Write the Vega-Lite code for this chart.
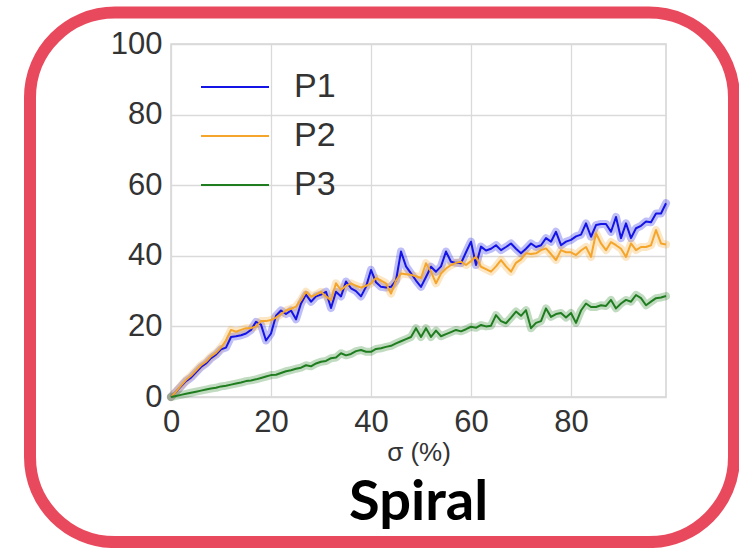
{
  "$schema": "https://vega.github.io/schema/vega-lite/v6.json",
  "width": 495,
  "height": 353,
  "autosize": {"type": "none"},
  "padding": {"left": 171, "top": 44, "right": 73, "bottom": 151},
  "background": "white",
  "config": {
    "font": "Liberation Sans",
    "view": {"stroke": "#d4d4d4", "strokeWidth": 1.5},
    "axis": {
      "grid": true, "gridColor": "#dadada", "gridWidth": 1.3,
      "domain": false, "ticks": false, "labelFlush": false,
      "labelFont": "Liberation Sans", "labelFontSize": 31, "labelColor": "#333333",
      "titleFont": "Liberation Sans", "titleFontSize": 26, "titleColor": "#333333", "titleFontWeight": "normal"
    },
    "legend": {
      "orient": "top-left", "offset": 29, "padding": 0,
      "symbolType": "stroke", "symbolSize": 4624, "symbolStrokeWidth": 1.8, "symbolOpacity": 1,
      "labelFont": "Liberation Sans", "labelFontSize": 34, "labelColor": "#333333", "labelOffset": 24,
      "clipHeight": 28, "rowPadding": 15
    }
  },
  "title": {
    "text": "Spiral", "orient": "bottom", "frame": "group", "font": "Lato", "fontSize": 56, "fontWeight": "bold",
    "color": "#000000", "offset": -72, "anchor": "middle"
  },
  "data": {"values": [
    {"s":"P1","x":0,"y":0},{"s":"P1","x":1,"y":1.5},{"s":"P1","x":2,"y":3},{"s":"P1","x":3,"y":4.5},{"s":"P1","x":4,"y":5.5},
    {"s":"P1","x":5,"y":7},{"s":"P1","x":6,"y":8.5},{"s":"P1","x":7,"y":9.5},{"s":"P1","x":8,"y":11},{"s":"P1","x":9,"y":12},
    {"s":"P1","x":10,"y":13.5},{"s":"P1","x":11,"y":14},{"s":"P1","x":12,"y":17},{"s":"P1","x":13,"y":17.2},{"s":"P1","x":14,"y":17.5},
    {"s":"P1","x":15,"y":18},{"s":"P1","x":16,"y":19},{"s":"P1","x":17,"y":21.3},{"s":"P1","x":18,"y":20.5},{"s":"P1","x":19,"y":16},
    {"s":"P1","x":20,"y":18},{"s":"P1","x":21,"y":23},{"s":"P1","x":22,"y":24.5},{"s":"P1","x":23,"y":23.5},{"s":"P1","x":24,"y":24.5},
    {"s":"P1","x":25,"y":22},{"s":"P1","x":26,"y":26.5},{"s":"P1","x":27,"y":29},{"s":"P1","x":28,"y":27},{"s":"P1","x":29,"y":28.5},
    {"s":"P1","x":30,"y":29},{"s":"P1","x":31,"y":29.8},{"s":"P1","x":32,"y":25.2},{"s":"P1","x":33,"y":29.8},{"s":"P1","x":34,"y":28.5},
    {"s":"P1","x":35,"y":32.7},{"s":"P1","x":36,"y":30.8},{"s":"P1","x":37,"y":30},{"s":"P1","x":38,"y":28.5},{"s":"P1","x":39,"y":31.2},
    {"s":"P1","x":40,"y":36},{"s":"P1","x":41,"y":32.5},{"s":"P1","x":42,"y":31.2},{"s":"P1","x":43,"y":31},{"s":"P1","x":44,"y":31.2},
    {"s":"P1","x":45,"y":33},{"s":"P1","x":46,"y":41.2},{"s":"P1","x":47,"y":37},{"s":"P1","x":48,"y":35},{"s":"P1","x":49,"y":33},
    {"s":"P1","x":50,"y":31.2},{"s":"P1","x":51,"y":34},{"s":"P1","x":52,"y":36.9},{"s":"P1","x":53,"y":35.5},{"s":"P1","x":54,"y":37},
    {"s":"P1","x":55,"y":41.2},{"s":"P1","x":56,"y":38.3},{"s":"P1","x":57,"y":38},{"s":"P1","x":58,"y":37.9},{"s":"P1","x":59,"y":41},
    {"s":"P1","x":60,"y":44},{"s":"P1","x":61,"y":37.4},{"s":"P1","x":62,"y":42.6},{"s":"P1","x":63,"y":41.5},{"s":"P1","x":64,"y":42},
    {"s":"P1","x":65,"y":43},{"s":"P1","x":66,"y":41.6},{"s":"P1","x":67,"y":42.5},{"s":"P1","x":68,"y":43.5},{"s":"P1","x":69,"y":42},
    {"s":"P1","x":70,"y":40.7},{"s":"P1","x":71,"y":42},{"s":"P1","x":72,"y":43.5},{"s":"P1","x":73,"y":42.5},{"s":"P1","x":74,"y":43},
    {"s":"P1","x":75,"y":45},{"s":"P1","x":76,"y":44},{"s":"P1","x":77,"y":46.8},{"s":"P1","x":78,"y":43},{"s":"P1","x":79,"y":44},
    {"s":"P1","x":80,"y":44.5},{"s":"P1","x":81,"y":45.5},{"s":"P1","x":82,"y":46},{"s":"P1","x":83,"y":49.2},{"s":"P1","x":84,"y":45.4},
    {"s":"P1","x":85,"y":48.7},{"s":"P1","x":86,"y":49},{"s":"P1","x":87,"y":49},{"s":"P1","x":88,"y":46.8},{"s":"P1","x":89,"y":51},
    {"s":"P1","x":90,"y":45},{"s":"P1","x":91,"y":49.2},{"s":"P1","x":92,"y":45},{"s":"P1","x":93,"y":47.8},{"s":"P1","x":94,"y":48.5},
    {"s":"P1","x":95,"y":49.7},{"s":"P1","x":96,"y":49.5},{"s":"P1","x":97,"y":52},{"s":"P1","x":98,"y":52},{"s":"P1","x":99,"y":54.9},

    {"s":"P2","x":0,"y":0},{"s":"P2","x":1,"y":1.5},{"s":"P2","x":2,"y":3.2},{"s":"P2","x":3,"y":4.8},{"s":"P2","x":4,"y":6},
    {"s":"P2","x":5,"y":7.5},{"s":"P2","x":6,"y":9},{"s":"P2","x":7,"y":10},{"s":"P2","x":8,"y":11.5},{"s":"P2","x":9,"y":12.5},
    {"s":"P2","x":10,"y":14},{"s":"P2","x":11,"y":16},{"s":"P2","x":12,"y":19},{"s":"P2","x":13,"y":18.5},{"s":"P2","x":14,"y":19},
    {"s":"P2","x":15,"y":19.5},{"s":"P2","x":16,"y":19.5},{"s":"P2","x":17,"y":20},{"s":"P2","x":18,"y":21.5},{"s":"P2","x":19,"y":21.5},
    {"s":"P2","x":20,"y":21.8},{"s":"P2","x":21,"y":22.5},{"s":"P2","x":22,"y":23.5},{"s":"P2","x":23,"y":24.5},{"s":"P2","x":24,"y":25},
    {"s":"P2","x":25,"y":25.6},{"s":"P2","x":26,"y":27.5},{"s":"P2","x":27,"y":29.8},{"s":"P2","x":28,"y":28.4},{"s":"P2","x":29,"y":29},
    {"s":"P2","x":30,"y":29.8},{"s":"P2","x":31,"y":28.5},{"s":"P2","x":32,"y":27.4},{"s":"P2","x":33,"y":32.2},{"s":"P2","x":34,"y":30.3},
    {"s":"P2","x":35,"y":31.5},{"s":"P2","x":36,"y":32.2},{"s":"P2","x":37,"y":31.5},{"s":"P2","x":38,"y":31},{"s":"P2","x":39,"y":31.5},
    {"s":"P2","x":40,"y":32.2},{"s":"P2","x":41,"y":33.7},{"s":"P2","x":42,"y":33},{"s":"P2","x":43,"y":32.2},{"s":"P2","x":44,"y":29.3},
    {"s":"P2","x":45,"y":33},{"s":"P2","x":46,"y":35},{"s":"P2","x":47,"y":34.8},{"s":"P2","x":48,"y":34.6},{"s":"P2","x":49,"y":34.2},
    {"s":"P2","x":50,"y":33.7},{"s":"P2","x":51,"y":37.9},{"s":"P2","x":52,"y":35.5},{"s":"P2","x":53,"y":32.2},{"s":"P2","x":54,"y":35},
    {"s":"P2","x":55,"y":36.4},{"s":"P2","x":56,"y":37.4},{"s":"P2","x":57,"y":38},{"s":"P2","x":58,"y":38.3},{"s":"P2","x":59,"y":37.4},
    {"s":"P2","x":60,"y":38.5},{"s":"P2","x":61,"y":39.7},{"s":"P2","x":62,"y":36.9},{"s":"P2","x":63,"y":36.2},{"s":"P2","x":64,"y":35.5},
    {"s":"P2","x":65,"y":37},{"s":"P2","x":66,"y":38.8},{"s":"P2","x":67,"y":37},{"s":"P2","x":68,"y":35.5},{"s":"P2","x":69,"y":38},
    {"s":"P2","x":70,"y":39},{"s":"P2","x":71,"y":40.7},{"s":"P2","x":72,"y":40.5},{"s":"P2","x":73,"y":40.7},{"s":"P2","x":74,"y":41.6},
    {"s":"P2","x":75,"y":42.1},{"s":"P2","x":76,"y":40.5},{"s":"P2","x":77,"y":38.8},{"s":"P2","x":78,"y":41.6},{"s":"P2","x":79,"y":41},
    {"s":"P2","x":80,"y":41},{"s":"P2","x":81,"y":40.2},{"s":"P2","x":82,"y":41.5},{"s":"P2","x":83,"y":42.5},{"s":"P2","x":84,"y":39.7},
    {"s":"P2","x":85,"y":46.4},{"s":"P2","x":86,"y":43.5},{"s":"P2","x":87,"y":41.6},{"s":"P2","x":88,"y":43.9},{"s":"P2","x":89,"y":43},
    {"s":"P2","x":90,"y":42},{"s":"P2","x":91,"y":39.7},{"s":"P2","x":92,"y":43.5},{"s":"P2","x":93,"y":41.6},{"s":"P2","x":94,"y":42.5},
    {"s":"P2","x":95,"y":42.5},{"s":"P2","x":96,"y":43},{"s":"P2","x":97,"y":47.3},{"s":"P2","x":98,"y":43.5},{"s":"P2","x":99,"y":43.2},

    {"s":"P3","x":0,"y":0},{"s":"P3","x":1,"y":0.3},{"s":"P3","x":2,"y":0.6},{"s":"P3","x":3,"y":0.9},{"s":"P3","x":4,"y":1.2},
    {"s":"P3","x":5,"y":1.5},{"s":"P3","x":6,"y":1.8},{"s":"P3","x":7,"y":2.1},{"s":"P3","x":8,"y":2.4},{"s":"P3","x":9,"y":2.6},
    {"s":"P3","x":10,"y":3},{"s":"P3","x":11,"y":3.2},{"s":"P3","x":12,"y":3.5},{"s":"P3","x":13,"y":3.8},{"s":"P3","x":14,"y":4.1},
    {"s":"P3","x":15,"y":4.5},{"s":"P3","x":16,"y":4.7},{"s":"P3","x":17,"y":5},{"s":"P3","x":18,"y":5.4},{"s":"P3","x":19,"y":5.8},
    {"s":"P3","x":20,"y":6.2},{"s":"P3","x":21,"y":6.3},{"s":"P3","x":22,"y":6.8},{"s":"P3","x":23,"y":7.3},{"s":"P3","x":24,"y":7.6},
    {"s":"P3","x":25,"y":8},{"s":"P3","x":26,"y":8.3},{"s":"P3","x":27,"y":9},{"s":"P3","x":28,"y":8.7},{"s":"P3","x":29,"y":9.5},
    {"s":"P3","x":30,"y":10},{"s":"P3","x":31,"y":10.2},{"s":"P3","x":32,"y":11},{"s":"P3","x":33,"y":11.2},{"s":"P3","x":34,"y":12.4},
    {"s":"P3","x":35,"y":11.8},{"s":"P3","x":36,"y":12.2},{"s":"P3","x":37,"y":13},{"s":"P3","x":38,"y":13.3},{"s":"P3","x":39,"y":12.8},
    {"s":"P3","x":40,"y":12.8},{"s":"P3","x":41,"y":13.6},{"s":"P3","x":42,"y":13.8},{"s":"P3","x":43,"y":14.2},{"s":"P3","x":44,"y":14.5},
    {"s":"P3","x":45,"y":15.2},{"s":"P3","x":46,"y":15.8},{"s":"P3","x":47,"y":16.4},{"s":"P3","x":48,"y":17},{"s":"P3","x":49,"y":19.5},
    {"s":"P3","x":50,"y":17},{"s":"P3","x":51,"y":19.5},{"s":"P3","x":52,"y":17},{"s":"P3","x":53,"y":18.8},{"s":"P3","x":54,"y":17.2},
    {"s":"P3","x":55,"y":17.8},{"s":"P3","x":56,"y":18.4},{"s":"P3","x":57,"y":19},{"s":"P3","x":58,"y":18.6},{"s":"P3","x":59,"y":19.2},
    {"s":"P3","x":60,"y":19.9},{"s":"P3","x":61,"y":19.6},{"s":"P3","x":62,"y":20.4},{"s":"P3","x":63,"y":20},{"s":"P3","x":64,"y":20.2},
    {"s":"P3","x":65,"y":23.2},{"s":"P3","x":66,"y":21.5},{"s":"P3","x":67,"y":20.9},{"s":"P3","x":68,"y":22.5},{"s":"P3","x":69,"y":24.2},
    {"s":"P3","x":70,"y":23},{"s":"P3","x":71,"y":24.6},{"s":"P3","x":72,"y":19.5},{"s":"P3","x":73,"y":21},{"s":"P3","x":74,"y":21.5},
    {"s":"P3","x":75,"y":25.1},{"s":"P3","x":76,"y":22.7},{"s":"P3","x":77,"y":23.5},{"s":"P3","x":78,"y":23.8},{"s":"P3","x":79,"y":22.5},
    {"s":"P3","x":80,"y":23.8},{"s":"P3","x":81,"y":21},{"s":"P3","x":82,"y":24.5},{"s":"P3","x":83,"y":26.5},{"s":"P3","x":84,"y":25.5},
    {"s":"P3","x":85,"y":25.5},{"s":"P3","x":86,"y":26},{"s":"P3","x":87,"y":25.8},{"s":"P3","x":88,"y":27.5},{"s":"P3","x":89,"y":25.1},
    {"s":"P3","x":90,"y":26.5},{"s":"P3","x":91,"y":27.5},{"s":"P3","x":92,"y":27},{"s":"P3","x":93,"y":28.9},{"s":"P3","x":94,"y":28},
    {"s":"P3","x":95,"y":26},{"s":"P3","x":96,"y":27},{"s":"P3","x":97,"y":28},{"s":"P3","x":98,"y":28.2},{"s":"P3","x":99,"y":28.6}
  ]},
  "layer": [
    {
      "mark": {"type": "line", "strokeWidth": 8, "opacity": 0.28, "strokeJoin": "round", "strokeCap": "round"},
      "encoding": {
        "x": {"field": "x", "type": "quantitative", "scale": {"domain": [0, 99], "nice": false, "zero": false},
              "axis": {"values": [0, 20, 40, 60, 80], "labelPadding": 10, "titlePadding": 2}, "title": "σ (%)"},
        "y": {"field": "y", "type": "quantitative", "scale": {"domain": [0, 100], "nice": false},
              "axis": {"values": [0, 20, 40, 60, 80, 100], "labelPadding": 9}, "title": null},
        "color": {"field": "s", "type": "nominal",
                  "legend": {"title": null, "symbolOpacity": 1, "symbolStrokeWidth": 1.8},
                  "scale": {"domain": ["P1", "P2", "P3"], "range": ["#1414e6", "#f5a52a", "#1f7d1f"]}}
      }
    },
    {
      "mark": {"type": "line", "strokeWidth": 2, "strokeJoin": "round"},
      "encoding": {
        "x": {"field": "x", "type": "quantitative"},
        "y": {"field": "y", "type": "quantitative"},
        "color": {"field": "s", "type": "nominal"}
      }
    },
    {
      "data": {"values": [{}]},
      "mark": {"type": "rect", "filled": false, "fill": null, "stroke": "#e9495d", "strokeWidth": 12, "cornerRadius": 85, "clip": false},
      "encoding": {
        "x": {"datum": -28.2, "type": "quantitative"},
        "x2": {"datum": 112.6},
        "y": {"datum": 108.9, "type": "quantitative"},
        "y2": {"datum": -41.1}
      }
    }
  ]
}
